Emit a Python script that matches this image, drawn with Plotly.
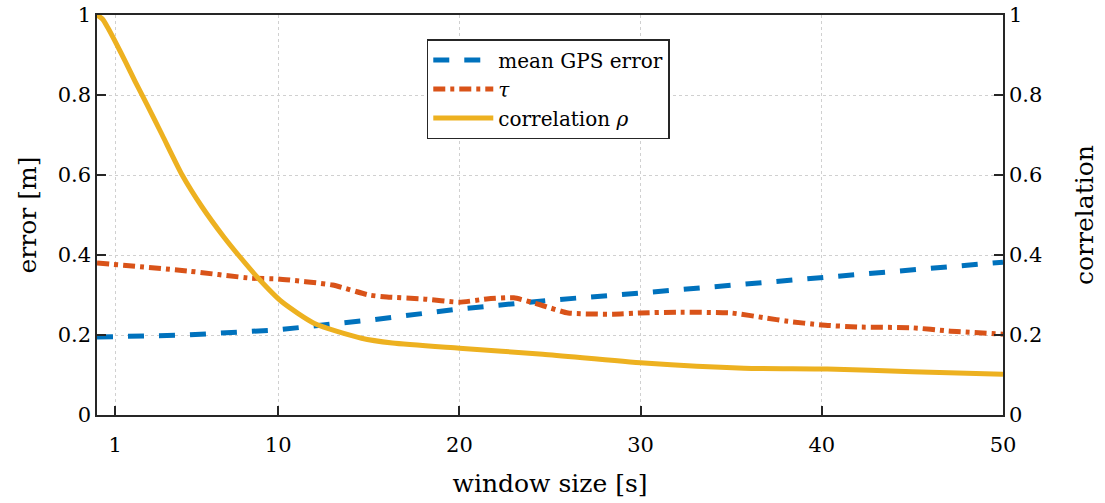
import plotly.graph_objects as go

# window size [s] and values
gps_x = [0, 5, 10, 15, 20, 25, 30, 35, 40, 45, 50]
gps_err = [0.195, 0.200, 0.213, 0.237, 0.265, 0.287, 0.305, 0.325, 0.343, 0.362, 0.382]

tau_x = [0, 5, 8.5, 10, 13, 15, 16, 18, 20, 21.5, 23, 24.5, 26, 28.5, 30, 32, 35,
         37, 38, 40, 42, 45, 47, 50]
tau = [0.38, 0.36, 0.342, 0.34, 0.325, 0.30, 0.295, 0.29, 0.282, 0.29, 0.293, 0.275,
       0.255, 0.252, 0.255, 0.257, 0.255, 0.242, 0.235, 0.225, 0.22, 0.218, 0.21, 0.202]

rho_x = [0, 0.3, 0.6, 1.0, 1.56, 2.1, 2.76, 3.6, 4.7, 5.8, 7, 7.8, 8.9, 10.2, 12, 14.6,
         16.3, 20, 24.6, 30.2, 35.7, 40.3, 45, 50]
rho = [1.0, 0.99, 0.968, 0.934, 0.884, 0.834, 0.776, 0.7, 0.6, 0.52, 0.445, 0.4, 0.342,
       0.283, 0.229, 0.192, 0.18, 0.167, 0.152, 0.13, 0.117, 0.115, 0.108, 0.102]

x_ticks = [1, 10, 20, 30, 40, 50]
y_ticks = [0, 0.2, 0.4, 0.6, 0.8, 1]
y_labels = ['0', '0.2', '0.4', '0.6', '0.8', '1']

FONT = "DejaVu Serif"  # only serif face that actually resolves here

fig = go.Figure()
fig.add_trace(go.Scatter(x=gps_x, y=gps_err, mode='lines', name='mean GPS error',
                         line=dict(color='#0072BD', width=5, dash='16px,15px')))
fig.add_trace(go.Scatter(x=tau_x, y=tau, mode='lines', name='<i>τ</i>',
                         line=dict(color='#D95319', width=5, dash='12px,5px,4px,5px',
                                   shape='spline', smoothing=0.5)))
fig.add_trace(go.Scatter(x=rho_x, y=rho, mode='lines', name='correlation <i>ρ</i>',
                         yaxis='y2',
                         line=dict(color='#EDB120', width=5, shape='spline', smoothing=0.6)))

axis_common = dict(
    showline=True, linecolor='#262626', linewidth=1.5, ticks='inside', ticklen=9,
    tickcolor='#262626', tickwidth=1.5, zeroline=False, automargin=False,
    ticklabeloverflow='allow',
    tickfont=dict(family=FONT, size=21, color='#000'),
)

fig.update_layout(
    width=1105, height=503,
    margin=dict(l=97, r=102, t=15, b=88),
    plot_bgcolor='white', paper_bgcolor='white',
    font=dict(family=FONT, color='#000'),
    xaxis=dict(range=[0, 50], tickvals=x_ticks, mirror=True, showgrid=True,
               gridcolor='#d0d0d0', griddash='dot', gridwidth=1, ticklabelstandoff=10,
               title=dict(text='window size [s]', font=dict(family=FONT, size=25), standoff=19),
               **axis_common),
    yaxis=dict(range=[0, 1], tickvals=y_ticks, ticktext=y_labels,
               showgrid=True, gridcolor='#d0d0d0', griddash='dot', gridwidth=1,
               title=dict(text='error [m]', font=dict(family=FONT, size=25), standoff=14),
               **axis_common),
    yaxis2=dict(range=[0, 1], tickvals=y_ticks, ticktext=y_labels,
                overlaying='y', side='right', showgrid=False,
                title=dict(text='correlation', font=dict(family=FONT, size=25), standoff=34),
                **axis_common),
    legend=dict(x=0.364, y=0.94, xanchor='left', yanchor='top',
                bgcolor='white', bordercolor='#262626', borderwidth=1.5,
                font=dict(family=FONT, size=20), tracegroupgap=0, itemwidth=60),
    showlegend=True,
)

# drop the default body margin so the figure sits at the page origin
fig.write_html("out.html", config={'displayModeBar': False},
               post_script="document.body.style.margin='0';")
